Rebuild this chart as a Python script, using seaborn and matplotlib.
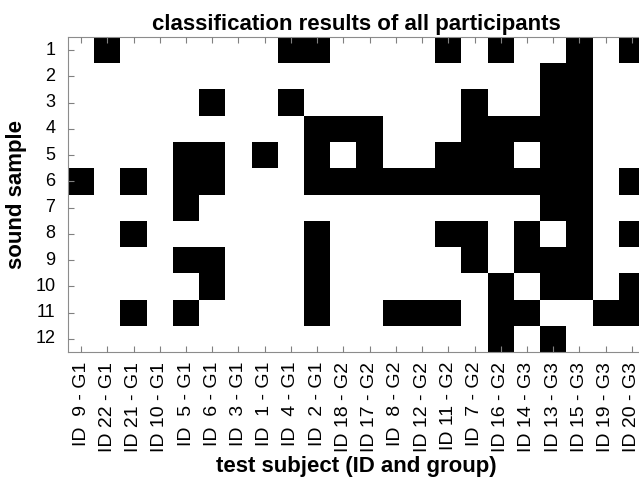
import numpy as np
import pandas as pd
import matplotlib
matplotlib.use('Agg')
import matplotlib.pyplot as plt
from matplotlib.colors import ListedColormap
import seaborn as sns

# test subjects in the order they appear on the x axis
subject_ids = [9, 22, 21, 10, 5, 6, 3, 1, 4, 2, 18, 17, 8, 12, 11, 7, 16, 14, 13, 15, 19, 20]
subject_groups = [1, 1, 1, 1, 1, 1, 1, 1, 1, 1, 2, 2, 2, 2, 2, 2, 2, 3, 3, 3, 3, 3]
samples = list(range(1, 13))

# per sound sample: indices of subjects with a black cell
black_cells = {
    1: [1, 8, 9, 14, 16, 19, 21],
    2: [18, 19],
    3: [5, 8, 15, 18, 19],
    4: [9, 10, 11, 15, 16, 17, 18, 19],
    5: [4, 5, 7, 9, 11, 14, 15, 16, 18, 19],
    6: [0, 2, 4, 5, 9, 10, 11, 12, 13, 14, 15, 16, 17, 18, 19, 21],
    7: [4, 18, 19],
    8: [2, 9, 14, 15, 17, 19, 21],
    9: [4, 5, 9, 15, 17, 18, 19],
    10: [5, 9, 16, 18, 19, 21],
    11: [2, 4, 9, 12, 13, 14, 16, 17, 20, 21],
    12: [16, 18],
}

# sprintf-style labels, ids padded to two places
subjects = [f'ID {i:2d} - G{g}' for i, g in zip(subject_ids, subject_groups)]

grid = np.zeros((len(samples), len(subjects)))
for s, cols in black_cells.items():
    grid[s - 1, cols] = 1
df = pd.DataFrame(grid, index=samples, columns=subjects)

sns.set_style('white')
plt.rcParams['font.family'] = ['Liberation Sans', 'DejaVu Sans']
plt.rcParams['text.color'] = 'black'
plt.rcParams['axes.labelcolor'] = 'black'
plt.rcParams['xtick.color'] = 'black'
plt.rcParams['ytick.color'] = 'black'

fig = plt.figure(figsize=(6.39, 4.83), dpi=100)
ax = fig.add_axes([0.1064, 0.2712, 0.903, 0.6522])

sns.heatmap(df, ax=ax, cmap=ListedColormap(['white', 'black']), cbar=False,
            vmin=0, vmax=1, linewidths=0, square=False)
ax.set_axisbelow(False)  # ticks sit on top of the cells

ax.set_xticks(np.arange(len(subjects)) + 0.5)
ax.set_xticklabels(subjects, rotation=90, fontsize=14)
ax.set_yticks(np.arange(len(samples)) + 0.5)
ax.set_yticklabels(samples, rotation=0, fontsize=13)

for sp in ax.spines.values():
    sp.set_visible(True)
    sp.set_color('#8c8c8c')
    sp.set_linewidth(0.8)

ax.tick_params(axis='both', direction='in', length=4, width=0.8, color='#808080',
               labelcolor='black', bottom=True, left=True, top=True, right=True,
               labeltop=False, labelright=False)
ax.tick_params(axis='x', pad=7)
ax.tick_params(axis='y', pad=9)

ax.set_title('classification results of all participants', fontsize=16,
             fontweight='bold', pad=5)
ax.set_xlabel('test subject (ID and group)', fontsize=16, fontweight='bold', labelpad=3)
ax.set_ylabel('sound sample', fontsize=16, fontweight='bold', labelpad=6)

fig.savefig('out.png', dpi=100)
